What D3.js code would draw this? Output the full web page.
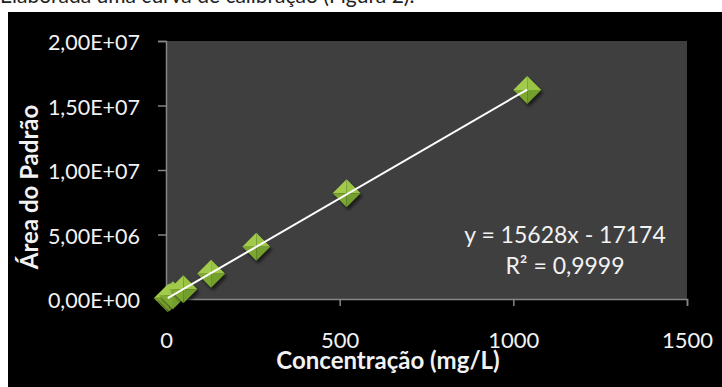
<!DOCTYPE html>
<html>
<head>
<meta charset="utf-8">
<title>Curva de calibração</title>
<script src="https://cdn.jsdelivr.net/npm/d3@7"></script>
<style>
	body { margin: 0; background: #ffffff; }
	svg text { font-family: Lato, "Open Sans", sans-serif; }
</style>
</head>
<body>
<script>

	//---- DATA ----//

	var concentracao = [5, 10, 20, 50, 130, 260, 520, 1040];
	var area = [6.0e4, 1.4e5, 2.9e5, 7.6e5, 1.95e6, 4.05e6, 8.2e6, 1.62e7];
	var xTicks = [0, 500, 1000, 1500];
	var yTicks = [0, 5e6, 1e7, 1.5e7, 2e7];
	var slope = 15628, intercept = -17174;
	var equationText = "y = 15628x - 17174";
	var r2Text = "R² = 0,9999";

	//---- LAYOUT ----//

	var W = 722, H = 387;
	var margin = {top: 41, right: 35, bottom: 88, left: 166};
	var width = W - margin.left - margin.right;
	var height = H - margin.top - margin.bottom;

	var svg = d3.select("body").append("svg")
		.attr("width", W)
		.attr("height", H);

	// cut off paragraph text above the chart
	svg.append("text")
		.attr("x", 0)
		.attr("y", 3)
		.attr("font-size", 21)
		.attr("fill", "#222")
		.text("Elaborada uma curva de calibração (Figura 2).");

	svg.append("rect")
		.attr("x", 8).attr("y", 12)
		.attr("width", W - 8).attr("height", H - 12)
		.attr("fill", "#000");

	var defs = svg.append("defs");
	defs.append("filter").attr("id", "shadow")
		.attr("x", "-50%").attr("y", "-50%").attr("width", "200%").attr("height", "200%")
		.append("feGaussianBlur").attr("stdDeviation", 1.8);

	var x = d3.scaleLinear().domain([0, 1500]).range([0, width]);
	var y = d3.scaleLinear().domain([0, 2e7]).range([height, 0]);

	var g = svg.append("g").attr("transform", "translate(" + margin.left + "," + margin.top + ")");

	g.append("rect")
		.attr("width", width).attr("height", height)
		.attr("fill", "#3f3f3f");

	function sciFmt(v) {
		var s = d3.format(".2e")(v).split("e");
		var exp = +s[1];
		var sign = exp < 0 ? "-" : "+";
		return s[0].replace(".", ",") + "E" + sign + String(Math.abs(exp)).padStart(2, "0");
	}

	var xAxis = g.append("g")
		.attr("transform", "translate(0," + height + ")")
		.call(d3.axisBottom(x).tickValues(xTicks).tickFormat(d3.format("d")).tickSize(7).tickPadding(26));
	var yAxis = g.append("g")
		.call(d3.axisLeft(y).tickValues(yTicks).tickFormat(sciFmt).tickSize(8).tickPadding(18));

	[xAxis, yAxis].forEach(function(a) {
		a.select(".domain").attr("stroke", "#868686").attr("stroke-width", 1.5);
		a.selectAll(".tick line").attr("stroke", "#868686").attr("stroke-width", 1.5);
		a.selectAll(".tick text")
			.attr("fill", "#f2f2f2")
			.attr("font-size", 22)
			.style("font-family", "Lato, 'Open Sans', sans-serif");
	});
	yAxis.selectAll(".tick text").attr("dy", "0.4em").attr("font-size", 21.5);

	// axis titles
	svg.append("text")
		.attr("x", 388).attr("y", 369)
		.attr("text-anchor", "middle")
		.attr("font-size", 24).attr("font-weight", "bold")
		.attr("fill", "#f2f2f2")
		.text("Concentração (mg/L)");

	svg.append("text")
		.attr("transform", "translate(38,187) rotate(-90)")
		.attr("text-anchor", "middle")
		.attr("font-size", 24).attr("font-weight", "bold")
		.attr("fill", "#f2f2f2")
		.text("Área do Padrão");

	// markers
	var pts = concentracao.map(function(c, i) { return {x: c, y: area[i]}; });
	var r = 14;
	var mk = g.selectAll(".mk").data(pts).enter().append("g")
		.attr("class", "mk")
		.attr("transform", function(d) { return "translate(" + x(d.x) + "," + y(d.y) + ")"; });

	mk.append("path")
		.attr("d", "M0," + (-r) + "L" + r + ",0L0," + r + "L" + (-r) + ",0Z")
		.attr("transform", "translate(2,3)")
		.attr("fill", "#000").attr("opacity", 0.55)
		.attr("filter", "url(#shadow)");
	var faces = [
		{d: "M0,0L" + (-r) + ",0L0," + (-r) + "Z", c: "#a2cb4b"},
		{d: "M0,0L0," + (-r) + "L" + r + ",0Z", c: "#99c444"},
		{d: "M0,0L" + r + ",0L0," + r + "Z", c: "#73a02c"},
		{d: "M0,0L0," + r + "L" + (-r) + ",0Z", c: "#7ca731"}
	];
	faces.forEach(function(f) {
		mk.append("path").attr("d", f.d).attr("fill", f.c);
	});

	// trendline
	var x0 = d3.min(concentracao), x1 = d3.max(concentracao);
	g.append("line")
		.attr("x1", x(x0)).attr("y1", y(slope * x0 + intercept))
		.attr("x2", x(x1)).attr("y2", y(slope * x1 + intercept))
		.attr("stroke", "#ffffff").attr("stroke-width", 2);

	// equation
	svg.append("text")
		.attr("x", 565).attr("y", 243)
		.attr("text-anchor", "middle")
		.attr("font-size", 23).attr("fill", "#f2f2f2")
		.text(equationText);
	svg.append("text")
		.attr("x", 565).attr("y", 274)
		.attr("text-anchor", "middle")
		.attr("font-size", 23).attr("fill", "#f2f2f2")
		.text(r2Text);
</script>
</body>
</html>
